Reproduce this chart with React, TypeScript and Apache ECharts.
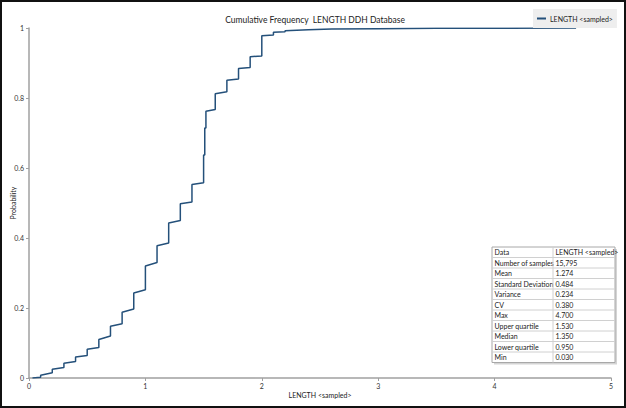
import React, { useEffect, useRef } from "react";
import * as echarts from "echarts";

// Cumulative frequency step curve: at each step x, probability just before and just after
const stepX = [0.1, 0.2, 0.3, 0.4, 0.5, 0.6, 0.7, 0.8, 0.9, 1.0, 1.1, 1.2, 1.3, 1.4, 1.5, 1.51, 1.52, 1.6, 1.7, 1.8, 1.9, 2.0, 2.1, 2.2];
const probBefore = [0.002, 0.015, 0.03, 0.047, 0.064, 0.087, 0.12, 0.155, 0.197, 0.252, 0.33, 0.386, 0.45, 0.503, 0.558, 0.637, 0.714, 0.767, 0.818, 0.854, 0.887, 0.92, 0.98, 0.989];
const probAfter = [0.008, 0.025, 0.042, 0.06, 0.082, 0.11, 0.148, 0.188, 0.243, 0.32, 0.378, 0.443, 0.498, 0.553, 0.637, 0.714, 0.762, 0.812, 0.851, 0.884, 0.918, 0.978, 0.988, 0.992];
const tailX = [2.4, 2.6, 3.0, 3.5, 4.0, 4.7];
const tailProb = [0.995, 0.997, 0.998, 0.999, 0.9995, 1.0];
const startX = 0.03;

const statLabels = ["Data", "Number of samples", "Mean", "Standard Deviation", "Variance", "CV", "Max", "Upper quartile", "Median", "Lower quartile", "Min"];
const statValues = ["LENGTH <sampled>", "15,795", "1.274", "0.484", "0.234", "0.380", "4.700", "1.530", "1.350", "0.950", "0.030"];

const seriesName = "LENGTH <sampled>";
const titleText = "Cumulative Frequency  LENGTH DDH Database";

export default function App() {
  const ref = useRef<HTMLDivElement>(null);
  useEffect(() => {
    document.body.style.margin = "0";
    const chart = echarts.init(ref.current!, null, { renderer: "svg" });
    const data: number[][] = [[startX, 0]];
    stepX.forEach((x, i) => {
      data.push([x, probBefore[i]]);
      data.push([x, probAfter[i]]);
    });
    tailX.forEach((x, i) => data.push([x, tailProb[i]]));

    const font = "Lato";
    const fs = 7;
    const tX = 492, tY = 247, rowH = 10.5, colW1 = 61, tW = 123;
    const tableEls: any[] = [];
    tableEls.push({ type: "rect", shape: { x: tX + 2, y: tY + 2, width: tW, height: rowH * statLabels.length }, style: { fill: "#d4d4d4" } });
    tableEls.push({ type: "rect", shape: { x: tX, y: tY, width: tW, height: rowH * statLabels.length }, style: { fill: "#fff", stroke: "#a8a8a8", lineWidth: 1 } });
    statLabels.forEach((l, i) => {
      const y = tY + i * rowH;
      if (i > 0) tableEls.push({ type: "line", shape: { x1: tX, y1: y, x2: tX + tW, y2: y }, style: { stroke: "#d0d0d0", lineWidth: 1 } });
      tableEls.push({ type: "text", style: { text: l, x: tX + 2.5, y: y + rowH / 2, verticalAlign: "middle", fontSize: fs, fontFamily: font, fill: "#222" } });
      tableEls.push({ type: "text", style: { text: statValues[i], x: tX + colW1 + 2.5, y: y + rowH / 2, verticalAlign: "middle", fontSize: fs, fontFamily: font, fill: "#222" } });
    });
    tableEls.push({ type: "line", shape: { x1: tX + colW1, y1: tY, x2: tX + colW1, y2: tY + rowH * statLabels.length }, style: { stroke: "#d0d0d0", lineWidth: 1 } });

    chart.setOption({
      animation: false,
      backgroundColor: "#fff",
      title: {
        text: titleText, left: 310, textAlign: "center", top: 10,
        textStyle: { fontSize: 8.5, fontWeight: "normal", fontFamily: font, color: "#222" },
      },
      legend: {
        left: 533, top: 9, backgroundColor: "#eeeeee", padding: [6, 4, 6, 4],
        itemWidth: 9, itemHeight: 2, icon: "rect", itemGap: 4,
        textStyle: { fontSize: fs, fontFamily: font, color: "#222", padding: [0, 0, 0, -1] },
        data: [seriesName],
      },
      grid: { left: 29, right: 15, top: 28, bottom: 30, outerBoundsMode: "none", containLabel: false },
      xAxis: {
        type: "value", min: 0, max: 5, interval: 1,
        name: "LENGTH <sampled>", nameLocation: "middle", nameGap: 13, nameMoveOverlap: false,
        nameTextStyle: { fontSize: fs, fontFamily: font, color: "#222" },
        axisLine: { lineStyle: { color: "#a0a0a0", width: 1.5 } },
        axisTick: { show: true, length: 3, lineStyle: { color: "#a0a0a0" } },
        axisLabel: { fontSize: fs, fontFamily: font, color: "#333", margin: 4 },
        splitLine: { show: false },
      },
      yAxis: {
        type: "value", min: 0, max: 1, interval: 0.2,
        name: "Probability", nameLocation: "middle", nameGap: 13, nameMoveOverlap: false,
        nameTextStyle: { fontSize: fs, fontFamily: font, color: "#222" },
        axisLine: { show: true, lineStyle: { color: "#a0a0a0", width: 1.5 } },
        axisTick: { show: true, length: 3, lineStyle: { color: "#a0a0a0" } },
        axisLabel: { fontSize: fs, fontFamily: font, color: "#333", margin: 5 },
        splitLine: { show: false },
      },
      series: [{
        name: seriesName, type: "line", data, showSymbol: false, symbol: "none",
        lineStyle: { color: "#24507a", width: 1.5 }, itemStyle: { color: "#24507a" },
      }],
      graphic: [
        ...tableEls,
        { type: "rect", shape: { x: 1, y: 1, width: 624, height: 406 }, style: { fill: "none", stroke: "#111", lineWidth: 2 }, silent: true },
      ],
    });
    return () => chart.dispose();
  }, []);
  return <div ref={ref} style={{ width: 626, height: 408 }} />;
}
